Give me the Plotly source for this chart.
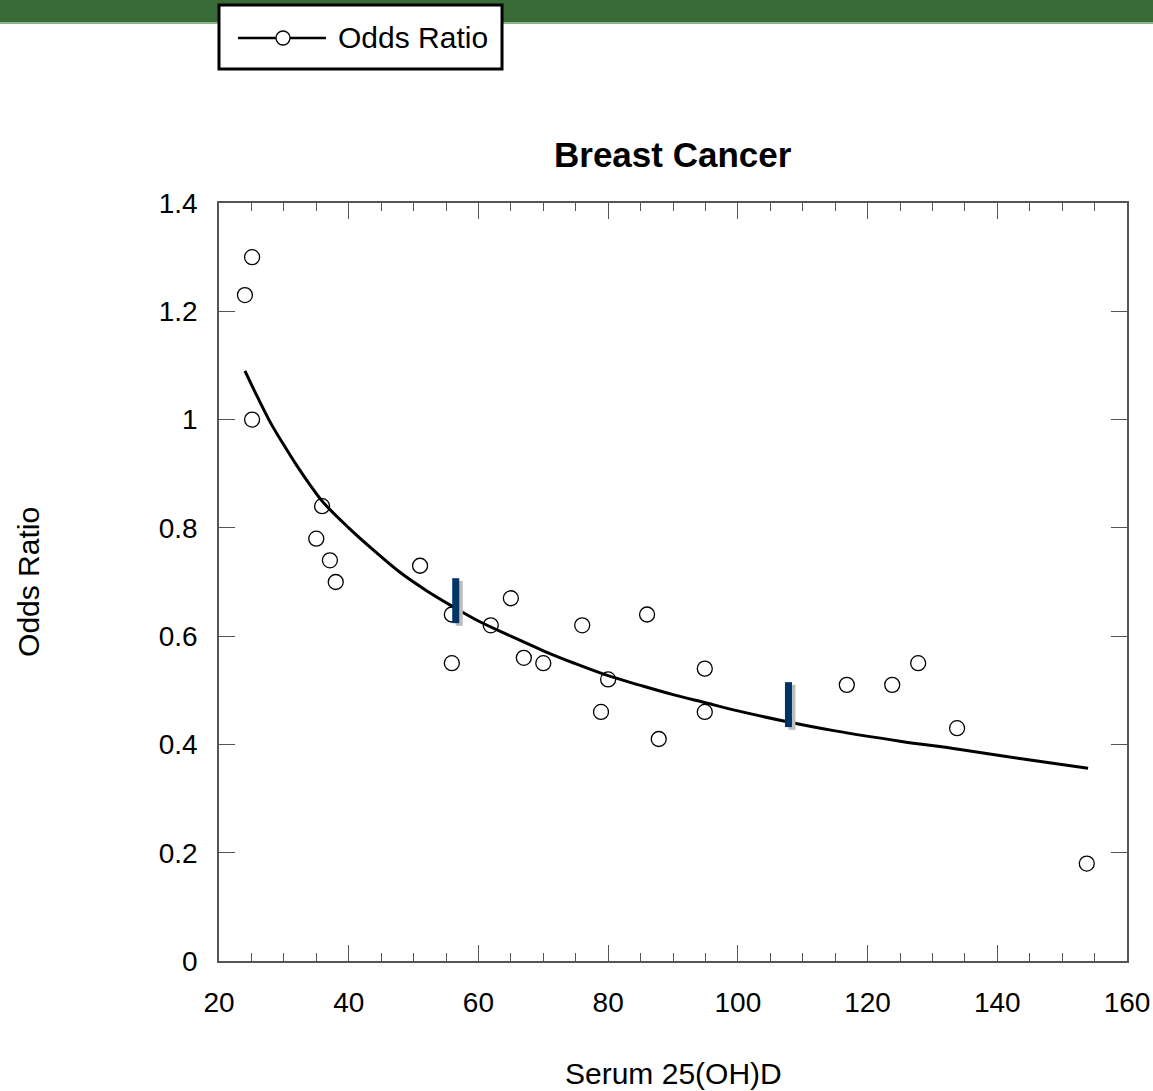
import plotly.graph_objects as go

# Observed odds ratios by serum 25(OH)D level
serum_x = [24.0, 25.1, 25.1, 35.0, 35.9, 37.1, 38.0, 51.0, 55.9, 55.9, 61.9, 65.0,
           67.0, 70.0, 76.0, 78.9, 80.0, 86.0, 87.8, 94.9, 94.9, 116.8, 123.8,
           127.8, 133.8, 153.8]
odds_y = [1.23, 1.30, 1.00, 0.78, 0.84, 0.74, 0.70, 0.73, 0.64, 0.55, 0.62, 0.67,
          0.56, 0.55, 0.62, 0.46, 0.52, 0.64, 0.41, 0.54, 0.46, 0.51, 0.51,
          0.55, 0.43, 0.18]

# Fitted dose-response curve
curve_x = [24, 26, 28, 30, 32, 34, 36, 40, 44, 48, 52, 56, 60, 65, 70, 75, 80, 85,
           90, 95, 100, 108, 115, 125, 134, 144, 154]
curve_y = [1.09, 1.04, 0.993, 0.953, 0.915, 0.880, 0.848, 0.800, 0.757, 0.717,
           0.684, 0.655, 0.628, 0.600, 0.573, 0.549, 0.527, 0.509, 0.492, 0.477,
           0.462, 0.441, 0.425, 0.406, 0.391, 0.373, 0.356]

# Highlighted range markers on the curve
marker_x = [56.5, 107.8]
marker_lo = [0.624, 0.432]
marker_hi = [0.707, 0.515]

x_ticks = [20, 40, 60, 80, 100, 120, 140, 160]
y_ticks = [0, 0.2, 0.4, 0.6, 0.8, 1, 1.2, 1.4]

FONT = "Liberation Sans, Arial, sans-serif"
AXIS_COLOR = "#555555"

fig = go.Figure()

fig.add_trace(go.Scatter(
    x=serum_x, y=odds_y, mode="markers", name="Odds Ratio",
    marker=dict(symbol="circle-open", size=15, color="black", line=dict(width=1.3)),
    showlegend=False, cliponaxis=False,
))
fig.add_trace(go.Scatter(
    x=curve_x, y=curve_y, mode="lines", line=dict(color="black", width=3, shape="spline", smoothing=1.0),
    showlegend=False,
))

shapes = []
for mx, lo, hi in zip(marker_x, marker_lo, marker_hi):
    # grey drop shadow
    shapes.append(dict(type="rect", xref="x", yref="y", xsizemode="pixel", xanchor=mx,
                       x0=0, x1=7, y0=lo - 0.005, y1=hi - 0.005,
                       fillcolor="#bdbdbd", line=dict(width=0)))
    shapes.append(dict(type="rect", xref="x", yref="y", xsizemode="pixel", xanchor=mx,
                       x0=-3.5, x1=3.5, y0=lo, y1=hi,
                       fillcolor="#003366", line=dict(width=0)))

# green banner across the top
shapes.append(dict(type="rect", xref="paper", yref="paper", x0=-0.25, x1=1.05,
                   y0=1.2388, y1=1.28, fillcolor="#386b36", line=dict(width=0), layer="below"))
shapes.append(dict(type="rect", xref="paper", yref="paper", x0=-0.25, x1=1.05,
                   y0=1.2362, y1=1.2388, fillcolor="#8fb58c", line=dict(width=0), layer="below"))

# legend box
shapes.append(dict(type="rect", xref="paper", yref="paper", x0=0.0, x1=0.3117,
                   y0=1.1768, y1=1.2612, fillcolor="white", line=dict(color="black", width=3)))
shapes.append(dict(type="line", xref="paper", yref="paper", x0=0.0209, x1=0.1178,
                   y0=1.2177, y1=1.2177, line=dict(color="black", width=2.5)))
shapes.append(dict(type="circle", xref="paper", yref="paper", xsizemode="pixel", ysizemode="pixel",
                   xanchor=0.0705, yanchor=1.2177, x0=-7, x1=7, y0=-7, y1=7,
                   fillcolor="white", line=dict(color="black", width=1.3)))

annotations = [
    dict(text="Odds Ratio", xref="paper", yref="paper", x=0.1289, y=1.2177,
         xanchor="left", yanchor="middle", showarrow=False,
         font=dict(family=FONT, size=30, color="black")),
    dict(text="<b>Breast Cancer</b>", xref="paper", yref="paper", x=0.5, y=1.0646,
         xanchor="center", yanchor="middle", showarrow=False,
         font=dict(family=FONT, size=35, color="black")),
    dict(text="Odds Ratio", xref="paper", yref="paper", x=-0.2104, y=0.5,
         xanchor="center", yanchor="middle", textangle=-90, showarrow=False,
         font=dict(family=FONT, size=30, color="black")),
    dict(text="Serum 25(OH)D", xref="paper", yref="paper", x=0.5, y=-0.1478,
         xanchor="center", yanchor="middle", showarrow=False,
         font=dict(family=FONT, size=30, color="black")),
]

fig.update_layout(
    width=1153, height=1091,
    margin=dict(l=219, r=26, t=203, b=130, autoexpand=False),
    paper_bgcolor="white", plot_bgcolor="white",
    showlegend=False,
    shapes=shapes, annotations=annotations,
    font=dict(family=FONT, size=28, color="black"),
)

fig.update_xaxes(
    range=[20, 160], tickvals=x_ticks, ticks="inside", ticklen=16, tickwidth=1.3,
    tickcolor=AXIS_COLOR, showline=True, linecolor=AXIS_COLOR, linewidth=1.5,
    mirror="ticks", showgrid=False, zeroline=False, ticklabelstandoff=16,
    tickfont=dict(family=FONT, size=28, color="black"), automargin=False,
    minor=dict(dtick=5, ticks="inside", ticklen=8, tickwidth=1.3, tickcolor=AXIS_COLOR, showgrid=False),
)
fig.update_yaxes(
    range=[0, 1.4], tickvals=y_ticks, ticks="inside", ticklen=16, tickwidth=1.3,
    tickcolor=AXIS_COLOR, showline=True, linecolor=AXIS_COLOR, linewidth=1.5,
    mirror="ticks", showgrid=False, zeroline=False, ticklabelstandoff=14,
    tickfont=dict(family=FONT, size=28, color="black"), automargin=False,
)

fig.write_html("out.html")
